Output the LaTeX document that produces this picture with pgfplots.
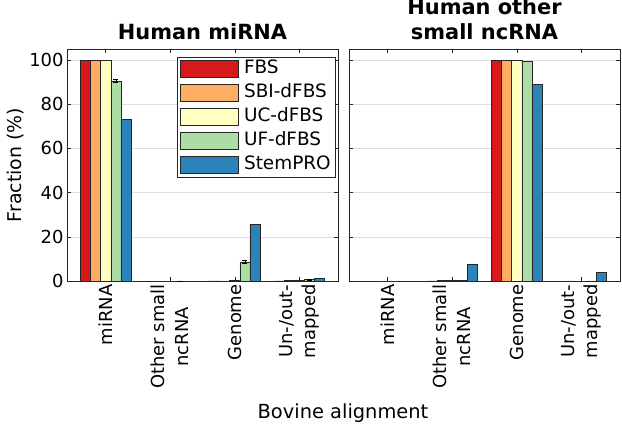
\documentclass[border=0pt]{standalone}
\usepackage{pgfplots}
\pgfplotsset{compat=1.18}
\usepackage{fontspec}
\setmainfont{DejaVu Sans}
\definecolor{cFBS}{HTML}{D7191C}
\definecolor{cSBI}{HTML}{FDAE61}
\definecolor{cUC}{HTML}{FFFFBF}
\definecolor{cUF}{HTML}{ABDDA4}
\definecolor{cSP}{HTML}{2B83BA}
\definecolor{axc}{HTML}{262626}
\pgfplotsset{
 myaxis/.style={
  scale only axis, width=271bp, height=232bp,
  xmin=0.4, xmax=4.6, ymin=0, ymax=105,
  xtick={1,2,3,4}, ytick={0,20,...,100},
  xticklabels={miRNA,{Other small\\ncRNA},Genome,{Un-/out-\\mapped}},
  x tick label style={rotate=90, anchor=east, align=center, font=\fontsize{18}{24}\selectfont},
  y tick label style={font=\fontsize{18}{22}\selectfont},
  /pgf/number format/assume math mode=true,
  tick align=inside, major tick length=4bp,
  tick style={axc, line width=0.5pt},
  axis line style={axc, line width=0.6pt},
  ymajorgrids, grid style={gray!25, line width=0.5pt},
  xtick pos=both, ytick pos=both,
  title style={font=\bfseries\fontsize{21}{25}\selectfont, align=center, anchor=south, at={(0.5,1)}, yshift=3bp, inner sep=0pt},
  legend image code/.code={\draw[##1] (0bp,-8.5bp) rectangle (58bp,8.5bp); \path (62bp,0bp);},
  every axis plot/.append style={ybar, bar width=0.157, bar shift=0pt, draw=black!85, line width=0.5pt},
  error bars/y dir=both, error bars/y explicit,
  error bars/error bar style={black, line width=0.6pt},
  error bars/error mark options={rotate=90, mark size=2.5bp, black, line width=0.6pt},
 }
}
\begin{document}
\begin{tikzpicture}
\begin{axis}[myaxis, at={(0bp,0bp)}, anchor=south west,
  title={Human miRNA},
  ylabel={Fraction (\%)},
  ylabel style={font=\fontsize{19}{22}\selectfont, anchor=center, at={(axis description cs:-0.19,0.5)}},
  legend style={at={(0.405,0.966)}, anchor=north west, draw=axc, line width=0.6pt, fill=white,
    font=\fontsize{18.5}{22}\selectfont, inner xsep=3bp, inner ysep=3bp, row sep=6bp,
    nodes={inner sep=1.5bp, text height=12bp, text depth=3bp}},
  legend cell align=left]
% group offsets: -0.314, -0.157, 0, 0.157, 0.314
\addplot[fill=cFBS] coordinates {(0.686,100) (1.686,0) (2.686,0.05) (3.686,0.1)};
\addplot[fill=cSBI] coordinates {(0.843,100) (1.843,0) (2.843,0.1) (3.843,0.15)};
\addplot[fill=cUC] coordinates {(1,100) (2,0) (3,0.2) (4,0.2)};
\addplot[fill=cUF] coordinates {(1.157,90.6) +- (0,0.6) (2.157,0.05) +- (0,0) (3.157,8.6) +- (0,0.8) (4.157,0.7) +- (0,0.2)};
\addplot[fill=cSP] coordinates {(1.314,73.3) (2.314,0) (3.314,25.5) (4.314,1.2)};
\legend{FBS,SBI-dFBS,UC-dFBS,UF-dFBS,StemPRO}
\end{axis}
\begin{axis}[myaxis, at={(282bp,0bp)}, anchor=south west,
  title={Human other\\small ncRNA}, yticklabels={}]
\addplot[fill=cFBS] coordinates {(0.686,0) (1.686,0.05) (2.686,99.9) (3.686,0)};
\addplot[fill=cSBI] coordinates {(0.843,0) (1.843,0.2) (2.843,99.8) (3.843,0.05)};
\addplot[fill=cUC] coordinates {(1,0) (2,0.2) (3,99.8) (4,0.05)};
\addplot[fill=cUF] coordinates {(1.157,0) (2.157,0.3) (3.157,99.6) (4.157,0.1)};
\addplot[fill=cSP] coordinates {(1.314,0) (2.314,7.4) (3.314,89.1) (4.314,3.8)};
\end{axis}
\node[font=\fontsize{19.5}{22}\selectfont] at (276bp,-132bp) {Bovine alignment};
\pgfresetboundingbox
\path (-67bp,-153bp) rectangle (555bp,281bp);
\end{tikzpicture}
\end{document}
